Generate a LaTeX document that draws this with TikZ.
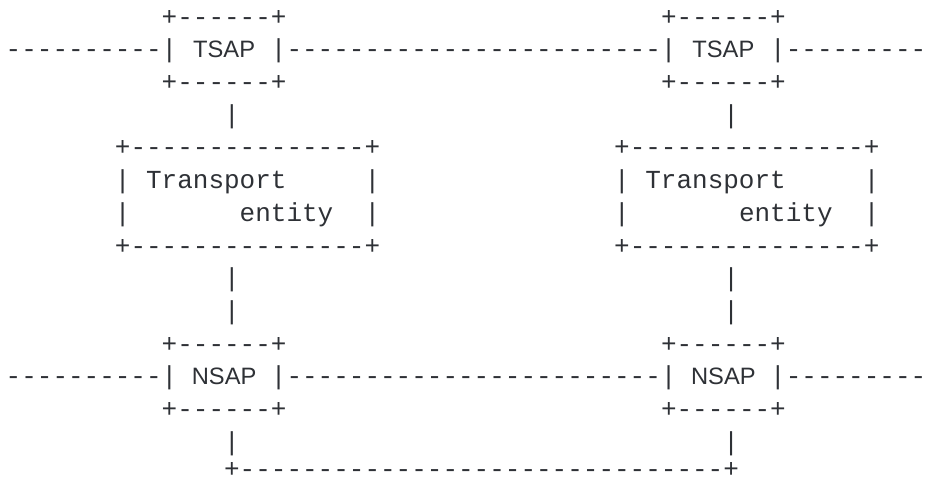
\documentclass[tikz,border=0pt]{standalone}
\usepackage{fontspec}
\setmonofont{Liberation Mono}
\setsansfont{Liberation Sans}
\definecolor{ink}{HTML}{2E3136}
\newcommand{\sapname}[1]{\makebox[62.4pt][c]{\sffamily\fontsize{23.7pt}{28pt}\selectfont #1}}

\begin{document}
\begin{tikzpicture}[x=1pt, y=-1pt]
    \useasboundingbox (0,0) rectangle (930,481);
    \tikzset{RowStyle/.style={anchor=base west, inner sep=0pt, text=ink,
        font=\ttfamily\fontsize{26pt}{32.7pt}\selectfont}}

    \node[RowStyle] (r1)  at (5.5, 25.2)  {~~~~~~~~~~+------+~~~~~~~~~~~~~~~~~~~~~~~~+------+};
    \node[RowStyle] (r2)  at (5.5, 57.9)  {----------|~\sapname{TSAP}~|------------------------|~\sapname{TSAP}~|---------};
    \node[RowStyle] (r3)  at (5.5, 90.6)  {~~~~~~~~~~+------+~~~~~~~~~~~~~~~~~~~~~~~~+------+};
    \node[RowStyle] (r4)  at (5.5, 123.3) {~~~~~~~~~~~~~~|~~~~~~~~~~~~~~~~~~~~~~~~~~~~~~~|};
    \node[RowStyle] (r5)  at (5.5, 156.0) {~~~~~~~+---------------+~~~~~~~~~~~~~~~+---------------+};
    \node[RowStyle] (r6)  at (5.5, 188.7) {~~~~~~~|~Transport~~~~~|~~~~~~~~~~~~~~~|~Transport~~~~~|};
    \node[RowStyle] (r7)  at (5.5, 221.4) {~~~~~~~|~~~~~~~entity~~|~~~~~~~~~~~~~~~|~~~~~~~entity~~|};
    \node[RowStyle] (r8)  at (5.5, 254.1) {~~~~~~~+---------------+~~~~~~~~~~~~~~~+---------------+};
    \node[RowStyle] (r9)  at (5.5, 286.8) {~~~~~~~~~~~~~~|~~~~~~~~~~~~~~~~~~~~~~~~~~~~~~~|};
    \node[RowStyle] (r10) at (5.5, 319.5) {~~~~~~~~~~~~~~|~~~~~~~~~~~~~~~~~~~~~~~~~~~~~~~|};
    \node[RowStyle] (r11) at (5.5, 352.2) {~~~~~~~~~~+------+~~~~~~~~~~~~~~~~~~~~~~~~+------+};
    \node[RowStyle] (r12) at (5.5, 384.9) {----------|~\sapname{NSAP}~|------------------------|~\sapname{NSAP}~|---------};
    \node[RowStyle] (r13) at (5.5, 417.6) {~~~~~~~~~~+------+~~~~~~~~~~~~~~~~~~~~~~~~+------+};
    \node[RowStyle] (r14) at (5.5, 450.3) {~~~~~~~~~~~~~~|~~~~~~~~~~~~~~~~~~~~~~~~~~~~~~~|};
    \node[RowStyle, text depth=0pt] (r15) at (5.5, 477.0) {~~~~~~~~~~~~~~+-------------------------------+};
\end{tikzpicture}
\end{document}
